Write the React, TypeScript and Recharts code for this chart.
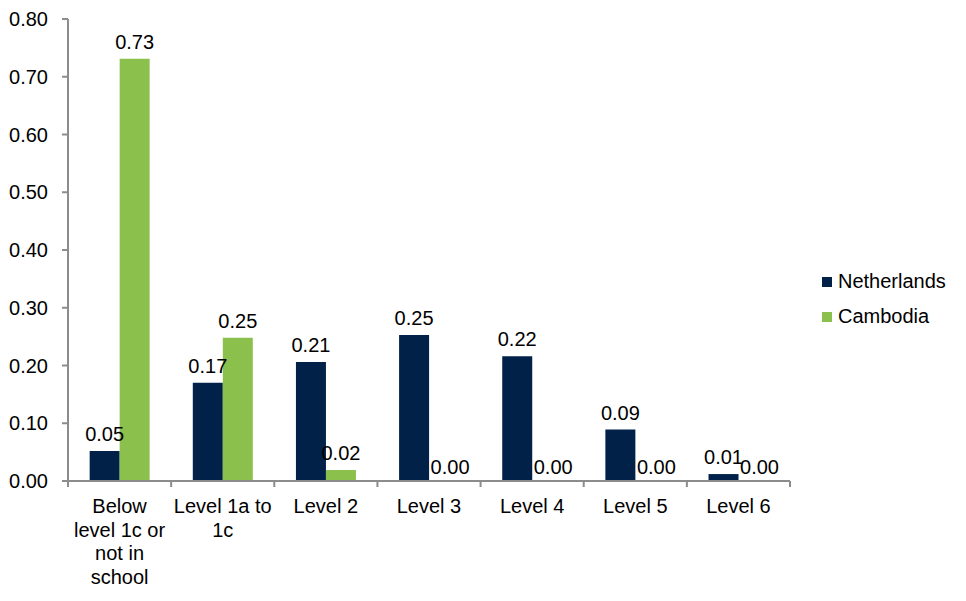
import React from "react";
import { BarChart, Bar, XAxis, YAxis, LabelList } from "recharts";

const categories = [
  "Below level 1c or not in school",
  "Level 1a to 1c",
  "Level 2",
  "Level 3",
  "Level 4",
  "Level 5",
  "Level 6",
];

// wrapped the way the original axis shows them
const tickLines = [
  ["Below", "level 1c or", "not in", "school"],
  ["Level 1a to", "1c"],
  ["Level 2"],
  ["Level 3"],
  ["Level 4"],
  ["Level 5"],
  ["Level 6"],
];

const netherlands = [0.052, 0.17, 0.206, 0.253, 0.216, 0.089, 0.012];
const cambodia = [0.731, 0.248, 0.019, 0, 0, 0, 0];

const yTicks = [0, 0.1, 0.2, 0.3, 0.4, 0.5, 0.6, 0.7, 0.8];

const series = [
  { key: "Netherlands", color: "#012149" },
  { key: "Cambodia", color: "#8bc04c" },
];

const data = categories.map((name, i) => ({
  name,
  Netherlands: netherlands[i],
  Cambodia: cambodia[i],
}));

const FONT = "'Liberation Sans', Arial, sans-serif";
const AXIS = "#8c8c8c";

if (typeof document !== "undefined") document.body.style.margin = "0";

function CategoryTick(props: any) {
  const { x, y, payload, index } = props;
  const half = payload?.offset ?? 51.5;
  const lines = tickLines[index] || [String(payload.value)];
  const axisY = y - 8;
  return (
    <g>
      <line x1={x - half} x2={x - half} y1={axisY} y2={axisY + 6} stroke={AXIS} strokeWidth={2} />
      {index === categories.length - 1 && (
        <line x1={x + half} x2={x + half} y1={axisY} y2={axisY + 6} stroke={AXIS} strokeWidth={2} />
      )}
      <text x={x} y={axisY + 32} textAnchor="middle" fontSize={20} fontFamily={FONT} fill="#000">
        {lines.map((l, i) => (
          <tspan key={i} x={x} dy={i === 0 ? 0 : 23.5}>
            {l}
          </tspan>
        ))}
      </text>
    </g>
  );
}

// value above the bar; zero bars get it nudged right and lower, like the original
function ValueLabel(props: any) {
  const { x, y, width, value } = props;
  if (value == null) return null;
  const zero = Number(value) === 0;
  return (
    <text
      x={x + width / 2 + (zero ? 6 : 0)}
      y={y - (zero ? 7 : 10)}
      textAnchor="middle"
      fontSize={20}
      fontFamily={FONT}
      fill="#000"
    >
      {Number(value).toFixed(2)}
    </text>
  );
}

const fmt = (v: any) => Number(v).toFixed(2);

export default function App() {
  return (
    <div style={{ position: "relative", width: 966, height: 601, background: "#fff" }}>
      <BarChart
        width={966}
        height={601}
        data={data}
        margin={{ top: 19, right: 176, left: 0, bottom: 0 }}
        barCategoryGap="21%"
        barGap={0}
      >
        <XAxis
          dataKey="name"
          axisLine={{ stroke: AXIS, strokeWidth: 2 }}
          tickLine={false}
          tickSize={6}
          tickMargin={2}
          height={120}
          interval={0}
          tick={<CategoryTick />}
        />
        <YAxis
          width={68}
          domain={[0, 0.8]}
          ticks={yTicks}
          tickFormatter={fmt}
          axisLine={{ stroke: AXIS, strokeWidth: 2 }}
          tickLine={{ stroke: AXIS, strokeWidth: 2 }}
          tickSize={6}
          tickMargin={14}
          tick={{ fontSize: 20, fontFamily: FONT, fill: "#000" }}
        />
        {series.map((s) => (
          <Bar key={s.key} dataKey={s.key} fill={s.color} minPointSize={0.01} isAnimationActive={false}>
            <LabelList dataKey={s.key} content={<ValueLabel />} />
          </Bar>
        ))}
      </BarChart>
      <div style={{ position: "absolute", left: 822, top: 264, fontFamily: FONT, fontSize: 20, color: "#000" }}>
        {series.map((s) => (
          <div key={s.key} style={{ display: "flex", alignItems: "center", height: 35 }}>
            <span style={{ width: 10, height: 10, background: s.color, marginRight: 6, display: "inline-block" }} />
            {s.key}
          </div>
        ))}
      </div>
    </div>
  );
}
